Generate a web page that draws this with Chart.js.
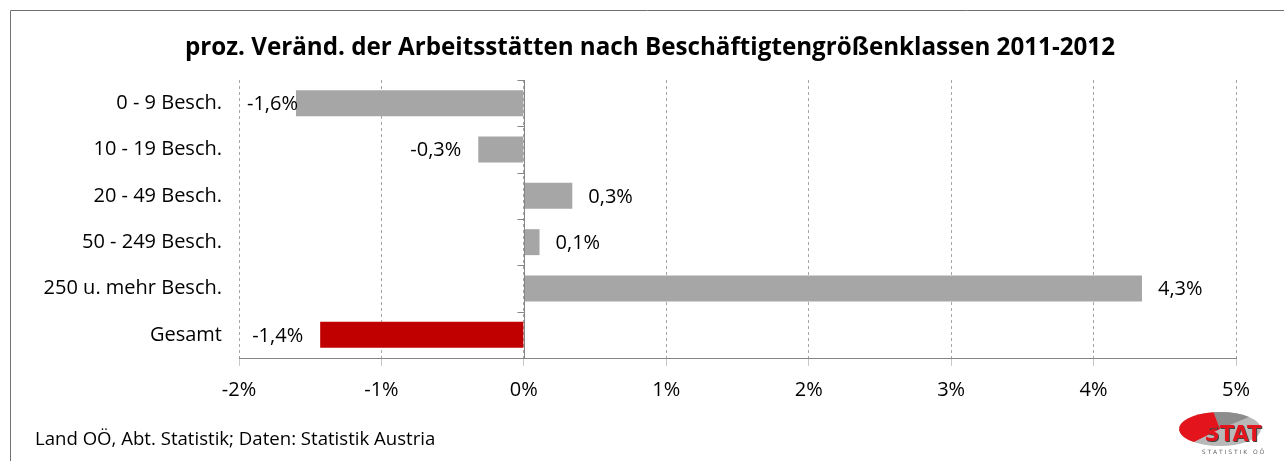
<!DOCTYPE html>
<html>
<head>
<meta charset="utf-8">
<script src="https://cdn.jsdelivr.net/npm/chart.js@4"></script>
<style>
  html, body { margin: 0; padding: 0; background: #fff; }
  #wrap { width: 1284px; height: 461px; }
</style>
</head>
<body>
<div id="wrap"><canvas id="chart"></canvas></div>
<script>
const categories = ['0 - 9 Besch.', '10 - 19 Besch.', '20 - 49 Besch.', '50 - 249 Besch.', '250 u. mehr Besch.', 'Gesamt']
const changes = [-1.6, -0.32, 0.34, 0.11, 4.34, -1.43]
const barColors = ['#a6a6a6', '#a6a6a6', '#a6a6a6', '#a6a6a6', '#a6a6a6', '#c00000']
const xTicks = [-2, -1, 0, 1, 2, 3, 4, 5]
const title = 'proz. Veränd. der Arbeitsstätten nach Beschäftigtengrößenklassen 2011-2012'
const source = 'Land OÖ, Abt. Statistik; Daten: Statistik Austria'

const FONT = '"Open Sans", sans-serif'

const fmt = v => v.toFixed(1).replace('.', ',') + '%'

// frame, title, zero line, data labels, footer and logo
const extras = {
  id: 'extras',
  beforeDraw(chart) {
    const c = chart.ctx
    c.save()
    c.strokeStyle = '#707070'
    c.lineWidth = 1
    c.beginPath()
    c.moveTo(10.5, 470)
    c.lineTo(10.5, 10.5)
    c.lineTo(1300, 10.5)
    c.stroke()

    c.font = 'bold 24.2px ' + FONT
    c.fillStyle = '#000'
    c.textAlign = 'center'
    c.textBaseline = 'middle'
    c.fillText(title, 650, 48)
    c.restore()
  },
  afterDatasetsDraw(chart) {
    const c = chart.ctx
    const x = chart.scales.x
    const area = chart.chartArea
    c.save()
    // zero axis with small ticks
    const x0 = Math.round(x.getPixelForValue(0)) + 0.5
    c.strokeStyle = '#868686'
    c.lineWidth = 1
    c.beginPath()
    c.moveTo(x0, area.top)
    c.lineTo(x0, area.bottom)
    const step = (area.bottom - area.top) / categories.length
    for (let i = 0; i <= categories.length; i++) {
      const yy = Math.round(area.top + i * step) + 0.5
      c.moveTo(x0 - 7, yy)
      c.lineTo(x0, yy)
    }
    c.stroke()

    // labels outside the bar ends
    c.font = '20px ' + FONT
    c.fillStyle = '#000'
    c.textBaseline = 'middle'
    c.textAlign = 'left'
    const meta = chart.getDatasetMeta(0)
    meta.data.forEach((bar, i) => {
      const v = changes[i]
      const txt = fmt(v)
      const w = c.measureText(txt).width
      let tx = v < 0 ? bar.x - 17 - w : bar.x + 16
      if (tx < area.left + 8) tx = area.left + 8
      c.fillText(txt, tx, bar.y + 1)
    })

    // footer
    c.font = '18.6px ' + FONT
    c.fillText(source, 35, 440)

    // logo
    const cx = 1220, cy = 429, rx = 41, ry = 17
    c.beginPath()
    c.ellipse(cx, cy, rx, ry, 0, 0, Math.PI * 2)
    c.fillStyle = '#b8b8b8'
    c.fill()
    c.beginPath()
    c.moveTo(cx, cy)
    c.ellipse(cx, cy, rx, ry, 0, -Math.PI * 0.55, -Math.PI * 0.25)
    c.closePath()
    c.fillStyle = '#8c8c8c'
    c.fill()
    c.beginPath()
    c.moveTo(cx, cy)
    c.ellipse(cx, cy, rx, ry, 0, Math.PI * 0.72, Math.PI * 1.45)
    c.closePath()
    c.fillStyle = '#e3141c'
    c.fill()
    c.font = 'bold 21px "DejaVu Sans", sans-serif'
    c.textAlign = 'center'
    c.fillStyle = '#444'
    c.fillText('STAT', cx + 14, cy + 8)
    c.fillStyle = '#e3141c'
    c.fillText('STAT', cx + 13, cy + 7)
    c.font = '6px "DejaVu Sans", sans-serif'
    c.fillStyle = '#666'
    c.fillText('S T A T I S T I K   O Ö', cx + 13, cy + 23)
    c.restore()
  }
}

new Chart(document.getElementById('chart'), {
  type: 'bar',
  data: {
    labels: categories,
    datasets: [{
      data: changes,
      backgroundColor: barColors,
      borderWidth: 0,
      barPercentage: 0.56,
      categoryPercentage: 1
    }]
  },
  options: {
    indexAxis: 'y',
    responsive: true,
    maintainAspectRatio: false,
    animation: false,
    layout: { padding: { left: 0, right: 48, top: 80, bottom: 47 } },
    scales: {
      x: {
        min: -2,
        max: 5,
        afterBuildTicks: s => { s.ticks = xTicks.map(v => ({ value: v })) },
        ticks: {
          callback: v => v + '%',
          color: '#000',
          font: { family: FONT, size: 20 },
          padding: 12,
          maxRotation: 0
        },
        grid: {
          color: '#a6a6a6',
          tickColor: '#c8c8c8',
          tickLength: 8,
          lineWidth: 1
        },
        border: { display: true, color: '#868686', dash: [3, 3] }
      },
      y: {
        afterFit: s => { s.width = 239 },
        ticks: {
          color: '#000',
          font: { family: FONT, size: 20 },
          padding: 17
        },
        grid: { display: false, drawTicks: false },
        border: { display: false }
      }
    },
    plugins: {
      legend: { display: false },
      tooltip: { enabled: false },
      title: { display: false }
    }
  },
  plugins: [extras]
})
</script>
</body>
</html>
